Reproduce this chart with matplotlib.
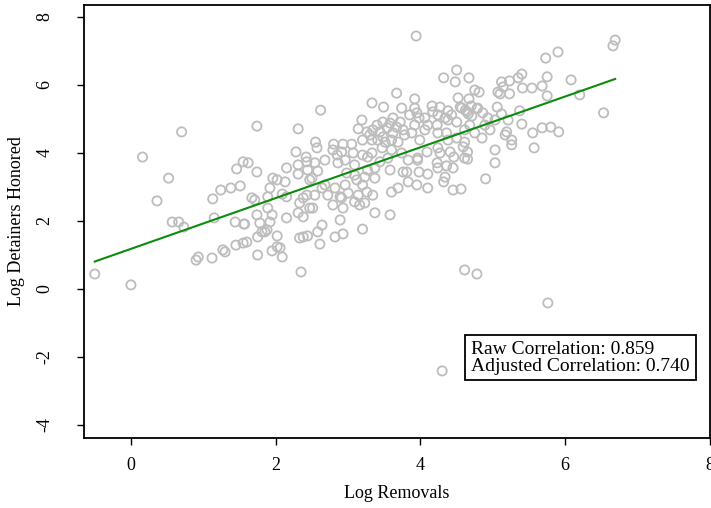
import numpy as np
import matplotlib.pyplot as plt

plt.rcParams['font.family'] = ['Liberation Serif', 'DejaVu Serif']
plt.rcParams['axes.unicode_minus'] = False

# log removals / log detainers honored, one pair per county
log_removals = [
    -0.50, 0.00, 2.35, 4.61, 4.78, 5.76, 4.30,
    0.16, 0.52, 0.36, 0.57, 0.66, 0.73, 1.13, 1.24, 1.38, 1.51, 1.46, 1.55, 1.15, 1.44, 1.56,
    0.90, 0.93, 1.12, 1.27, 1.30, 1.45, 1.55, 0.70,
    3.67, 3.33, 3.49, 3.74, 2.62, 3.19, 3.62, 3.48, 1.74, 2.31, 3.14, 2.55, 2.80, 2.93, 3.05,
    3.26, 3.30, 3.34, 3.40, 3.44, 3.48, 3.54, 3.58, 3.62, 3.67, 3.72, 3.76, 3.33, 3.41, 3.51,
    3.60, 3.69, 3.20,
    3.94, 5.73, 5.90, 4.50, 4.32, 4.48, 4.67, 5.40, 5.35, 5.12, 5.23, 5.75, 5.68, 5.54, 5.41,
    5.14, 5.07, 5.10, 5.23, 5.75, 4.75, 4.81, 4.52, 3.92, 4.67, 5.06, 5.37, 5.12, 4.16, 4.27,
    3.92, 3.95, 3.98, 4.38, 4.24, 4.10, 4.23, 4.38, 4.50, 4.68, 4.89, 5.03, 5.21, 5.40, 4.85,
    5.17, 5.19, 5.26, 5.55, 5.68, 5.80, 5.91, 3.88, 3.78, 3.99, 4.24, 4.36, 4.50, 4.61, 4.38,
    4.55, 4.62, 4.70, 4.78, 4.66, 3.85, 4.06, 4.17, 4.34, 4.43, 4.57, 4.64, 4.71, 4.79, 4.86,
    4.93, 4.61, 4.75, 4.96, 4.06, 3.92,
    6.69, 6.66, 6.08, 6.20, 6.53,
    5.03, 5.57, 5.26, 5.03, 4.90, 4.56, 4.45, 4.32, 4.34, 4.10, 3.95, 3.83, 4.10, 3.98, 3.81,
    4.45, 4.36, 4.24, 4.23, 4.65, 4.61, 4.46, 4.27, 4.09, 3.96, 3.96, 3.83, 4.41, 4.65, 4.24,
    4.59,
    2.28, 2.57, 2.42, 2.43, 2.79, 2.85, 2.91, 2.96, 3.07, 3.20, 3.27, 3.33, 3.47, 3.60, 3.74,
    3.55, 1.62, 2.15, 2.31, 2.54, 2.68, 2.86, 3.09, 3.44, 1.74, 2.31, 2.44, 2.50, 2.58, 2.98,
    3.09, 3.23, 3.27, 3.37, 3.58, 3.76, 1.96, 2.02, 2.13, 2.47, 2.68, 2.64, 2.82, 2.96, 3.12,
    3.20, 3.37, 1.92, 2.09, 2.15, 2.54, 2.72, 2.89, 3.00, 3.14, 3.26, 3.34, 3.60, 3.69, 1.67,
    1.71, 1.89, 2.38, 2.43, 2.33, 2.91, 3.09, 3.16, 3.23, 2.79, 2.93, 1.89, 2.47, 2.51, 2.31,
    2.38, 3.37, 3.58, 1.74, 1.95, 2.15, 2.89, 1.92, 1.57, 1.78, 2.64, 3.20, 1.88, 1.85, 1.81,
    2.58, 2.02, 1.75, 2.33, 2.38, 2.44, 2.82, 2.93, 1.60, 2.02, 2.61, 2.06, 1.95, 1.75, 2.09,
]
log_detainers = [
    0.44, 0.12, 0.50, 0.56, 0.44, -0.41, -2.41,
    3.88, 3.26, 2.59, 1.97, 1.97, 1.82, 2.65, 2.91, 2.97, 3.03, 3.53, 3.74, 2.09, 1.97, 1.91,
    0.85, 0.94, 0.91, 1.15, 1.09, 1.29, 1.35, 4.62,
    5.76, 5.47, 5.35, 5.32, 5.26, 4.97, 5.03, 4.91, 4.79, 4.71, 4.71, 4.32, 4.26, 4.26, 4.26,
    4.62, 4.53, 4.68, 4.82, 4.62, 4.47, 4.74, 4.88, 4.59, 4.76, 4.91, 4.68, 4.38, 4.38, 4.32,
    4.38, 4.32, 4.38,
    7.44, 6.79, 6.97, 6.44, 6.21, 6.09, 6.21, 6.32, 6.21, 6.09, 6.12, 6.24, 5.97, 5.91, 5.91,
    5.94, 5.79, 5.74, 5.74, 5.68, 5.85, 5.79, 5.62, 5.59, 5.59, 5.35, 5.24, 5.15, 5.38, 5.35,
    5.32, 5.18, 5.03, 5.24, 5.12, 4.82, 4.82, 4.97, 4.91, 4.82, 4.82, 4.97, 4.97, 4.85, 4.44,
    4.53, 4.62, 4.38, 4.59, 4.74, 4.76, 4.62, 4.59, 4.53, 4.38, 4.59, 4.59, 4.44, 4.32, 4.38,
    5.35, 5.26, 5.38, 5.30, 5.15, 5.12, 5.03, 5.21, 5.03, 5.12, 5.32, 5.21, 5.09, 5.32, 5.18,
    5.03, 4.68, 4.59, 4.68, 4.68, 4.82,
    7.32, 7.15, 6.15, 5.71, 5.18,
    4.09, 4.15, 4.24, 3.71, 3.24, 2.94, 2.91, 3.15, 3.29, 2.97, 3.06, 3.15, 3.38, 3.44, 3.44,
    3.56, 3.62, 3.56, 3.71, 3.82, 3.85, 3.88, 4.00, 4.03, 3.79, 3.85, 3.79, 4.03, 4.03, 4.15,
    4.18,
    4.03, 4.15, 3.88, 3.74, 4.09, 3.94, 4.03, 3.79, 4.00, 3.94, 3.88, 4.00, 4.15, 4.09, 4.00,
    3.85, 3.71, 3.56, 3.65, 3.71, 3.79, 3.71, 3.65, 3.74, 3.44, 3.38, 3.50, 3.26, 3.47, 3.41,
    3.35, 3.29, 3.50, 3.56, 3.50, 3.44, 3.26, 3.21, 3.15, 3.21, 3.06, 2.97, 2.97, 3.06, 3.21,
    3.06, 3.26, 2.97, 2.79, 2.71, 2.76, 2.76, 2.71, 2.82, 2.76, 2.85, 2.76, 2.85, 2.97, 2.68,
    2.62, 2.71, 2.68, 2.76, 2.53, 2.68, 2.56, 2.47, 2.53, 2.47, 2.38, 2.38, 2.38, 2.38, 2.24,
    2.12, 2.24, 2.18, 2.18, 2.18, 2.09, 2.03, 1.97, 1.91, 1.94, 1.88, 1.76, 1.74, 1.68, 1.68,
    1.68, 1.56, 1.53, 1.50, 1.53, 1.56, 1.53, 1.62, 1.38, 1.24, 1.32, 1.21, 1.12, 1.00, 0.94,
]

# fitted line
fit_intercept = 1.18
fit_slope = 0.747

corr_raw = 0.859
corr_adj = 0.740

x = np.array(log_removals)
y = np.array(log_detainers)

fig = plt.figure(figsize=(7.11, 5.08), dpi=100)
ax = fig.add_axes([0.118, 0.138, 0.8806, 0.852])

ax.scatter(x, y, s=44, facecolors='none', edgecolors='#bdbdbd', linewidths=1.3, zorder=2)

xs = np.array([x.min(), x.max()])
ax.plot(xs, fit_intercept + fit_slope * xs, color='#0c8c0c', lw=1.5, zorder=3)

ax.set_xlim(-0.65, 8.0)
ax.set_ylim(-4.38, 8.35)
ax.set_xticks([0, 2, 4, 6, 8])
ax.set_yticks([-4, -2, 0, 2, 4, 6, 8])
ax.tick_params(direction='out', length=5, width=1, labelsize=13)
ax.tick_params(axis='x', pad=9)
ax.tick_params(axis='y', pad=17)
for lab in ax.get_yticklabels():
    lab.set_rotation(90)
    lab.set_va('center')
for sp in ax.spines.values():
    sp.set_linewidth(1.3)

ax.set_xlabel('Log Removals', fontsize=13, labelpad=8)
ax.set_ylabel('Log Detainers Honored', fontsize=13, labelpad=8)

ax.text(4.70, -2.02, f'Raw Correlation: {corr_raw:.3f}\nAdjusted Correlation: {corr_adj:.3f}',
        fontsize=14, va='center', ha='left', linespacing=1.0,
        bbox=dict(boxstyle='square,pad=0.3', fc='white', ec='black', lw=1.3), zorder=4)

fig.savefig('out.png', dpi=100)
